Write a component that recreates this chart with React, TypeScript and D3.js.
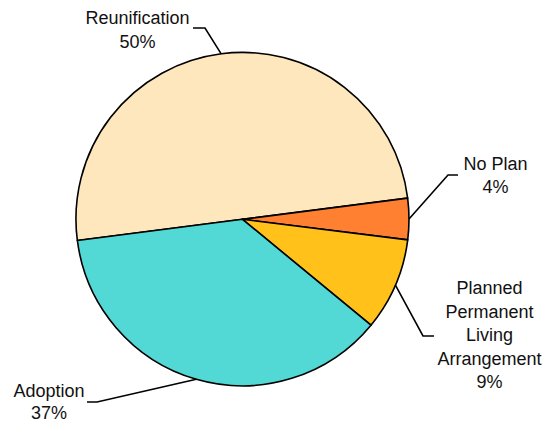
import React from "react";
import * as d3 from "d3";

const categories = ["Reunification", "No Plan", "Planned Permanent Living Arrangement", "Adoption"];
const values = [50, 4, 9, 37];
const labelLines = [["Reunification", "50%"], ["No Plan", "4%"], ["Planned", "Permanent", "Living", "Arrangement", "9%"], ["Adoption", "37%"]];
const colors = ["#FEE6BD", "#FF8030", "#FFC11A", "#52D8D5"];

// layout (not data): label text centre x, first baseline y, elbow and end of leader line
const layout = [
  { tx: 137.5, ty: 23.5, lh: 24.5, elbow: [205, 28], end: [193, 28] },
  { tx: 495.5, ty: 170, lh: 23.3, elbow: [448, 175], end: [458, 175] },
  { tx: 489.5, ty: 294.3, lh: 23.5, elbow: [423, 336], end: [434, 336] },
  { tx: 49, ty: 396.5, lh: 22.3, elbow: [97, 402], end: [87, 402] },
];

export default function App() {
  const W = 546, H = 422;
  const cx = 242.5, cy = 219.3, r = 166.5;
  const start = (-97.3 * Math.PI) / 180;
  const pie = d3.pie<number>().sort(null).value((d) => d).startAngle(start).endAngle(start + 2 * Math.PI);
  const arcs = pie(values);
  const arc = d3.arc<d3.PieArcDatum<number>>().innerRadius(0).outerRadius(r);
  return (
    <svg width={W} height={H} style={{ position: "absolute", left: 0, top: 0 }} fontFamily="Liberation Sans, Arial, sans-serif">
      <rect width={W} height={H} fill="#fff" />
      <g transform={`translate(${cx},${cy})`}>
        {arcs.map((a, i) => (
          <path key={categories[i]} d={arc(a) || ""} fill={colors[i]} stroke="#000" strokeWidth={1.6} strokeLinejoin="round" />
        ))}
      </g>
      {arcs.map((a, i) => {
        const mid = (a.startAngle + a.endAngle) / 2;
        const px = cx + r * Math.sin(mid);
        const py = cy - r * Math.cos(mid);
        const L = layout[i];
        return (
          <g key={"l" + i}>
            <polyline points={`${px},${py} ${L.elbow[0]},${L.elbow[1]} ${L.end[0]},${L.end[1]}`} fill="none" stroke="#000" strokeWidth={1.6} />
            <text textAnchor="middle" fontSize={18} fill="#111">
              {labelLines[i].map((t, j) => (
                <tspan key={j} x={L.tx} y={L.ty + j * L.lh}>{t}</tspan>
              ))}
            </text>
          </g>
        );
      })}
    </svg>
  );
}
